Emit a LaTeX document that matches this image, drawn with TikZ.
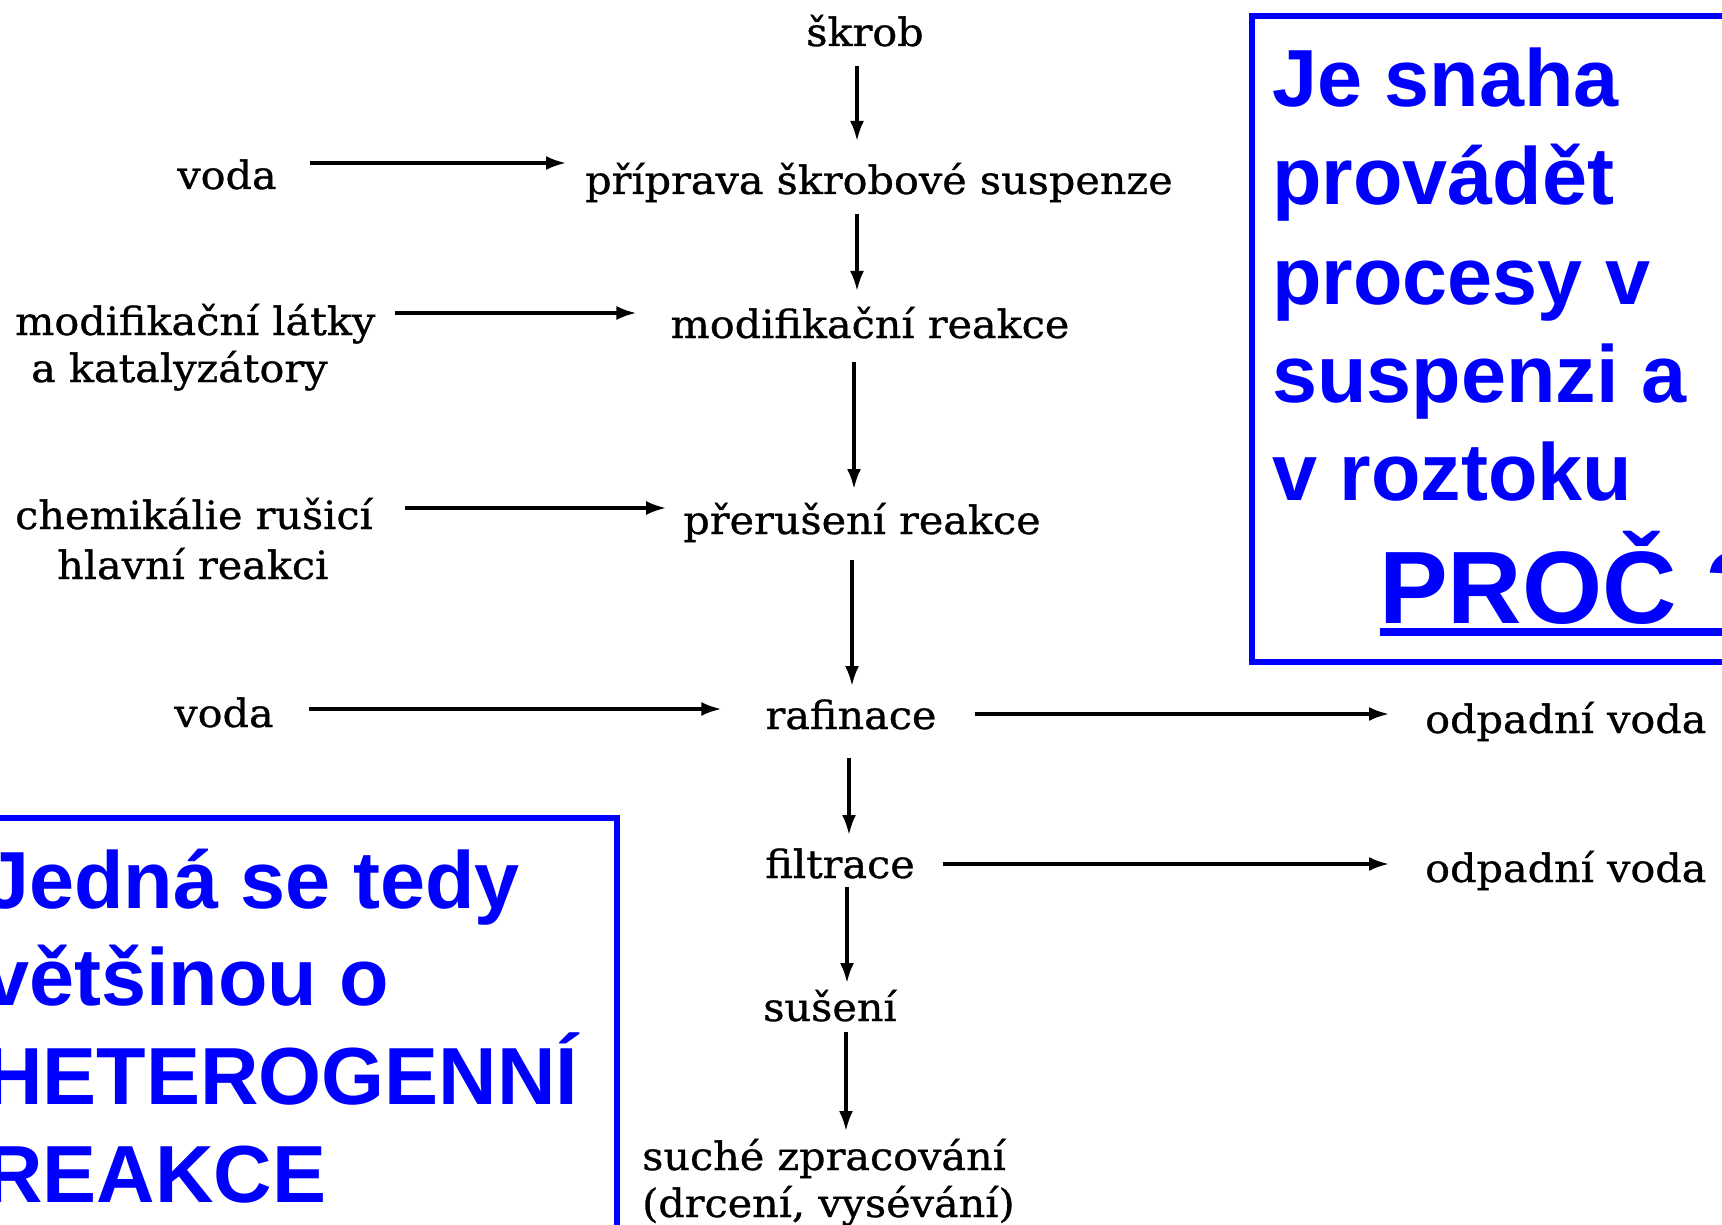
\documentclass[tikz,border=0pt]{standalone}
\usepackage{fontspec}
\setmainfont{DejaVu Serif}[FakeStretch=1.06,FakeBold=0.8]
\newfontfamily\bluefont{Liberation Sans}
\usetikzlibrary{arrows.meta}
\definecolor{pureblue}{RGB}{0,0,255}
\begin{document}
\begin{tikzpicture}[x=1pt,y=-1pt,
  flow/.style={font=\fontsize{39}{47}\selectfont, inner sep=0pt, anchor=base},
  flowl/.style={flow, anchor=base west},
  arr/.style={line width=3.2pt, -{Latex[length=20pt,width=14pt]}},
  bluetxt/.style={font=\bluefont\bfseries\fontsize{81}{98}\selectfont, text=pureblue, inner sep=0pt, anchor=base west},
  bluebox/.style={draw=pureblue, line width=6.5pt}]
\useasboundingbox (0,0) rectangle (1722,1225);
\fill[white] (0,0) rectangle (1722,1225);
\clip (0,0) rectangle (1722,1225);

% flow nodes
\node[flow] (skrob) at (865,46) {škrob};
\node[flow] (voda1) at (227,189) {voda};
\node[flow] (pripr) at (879,194) {příprava škrobové suspenze};
\node[flowl] (modifA) at (15,335) {modifikační látky};
\node[flowl] (modifB) at (31,382) {a katalyzátory};
\node[flow] (modreak) at (870,338) {modifikační reakce};
\node[flowl] (chemA) at (15,529) {chemikálie rušicí};
\node[flowl] (chemB) at (57,579) {hlavní reakci};
\node[flow] (prer) at (862,534) {přerušení reakce};
\node[flow] (voda2) at (224,727) {voda};
\node[flow] (raf) at (851,729) {rafinace};
\node[flowl] (odp1) at (1425,733) {odpadní voda};
\node[flow] (filt) at (840,878) {filtrace};
\node[flowl] (odp2) at (1425,882) {odpadní voda};
\node[flow] (sus) at (830,1021) {sušení};
\node[flowl] (sucheA) at (642,1170) {suché zpracování};
\node[flowl] (sucheB) at (642,1217) {(drcení, vysévání)};

% vertical arrows
\draw[arr] ([xshift=-8pt,yshift=-20pt]skrob.base) -- ([xshift=-8pt,yshift=53pt]skrob.base |- pripr.base);
\draw[arr] ([xshift=-22pt,yshift=-20pt]pripr.base) -- ([xshift=-22pt,yshift=47pt]pripr.base |- modreak.base);
\draw[arr] ([xshift=-16pt,yshift=-24pt]modreak.base) -- ([xshift=-16pt,yshift=45pt]modreak.base |- prer.base);
\draw[arr] ([xshift=-10pt,yshift=-26pt]prer.base) -- ([xshift=-10pt,yshift=43pt]prer.base |- raf.base);
\draw[arr] ([xshift=-2pt,yshift=-29pt]raf.base) -- ([xshift=-2pt,yshift=43pt]raf.base |- filt.base);
\draw[arr] ([xshift=7pt,yshift=-9pt]filt.base) -- ([xshift=7pt,yshift=38pt]filt.base |- sus.base);
\draw[arr] ([xshift=16pt,yshift=-11pt]sus.base) -- ([xshift=16pt,yshift=39pt]sus.base |- sucheA.base);

% horizontal arrows
\draw[arr] ([xshift=33pt,yshift=26pt]voda1.base east) -- ([xshift=-19pt,yshift=26pt]voda1.base east -| pripr.west);
\draw[arr] ([xshift=20pt,yshift=22pt]modifA.base east) -- ([xshift=-34pt,yshift=22pt]modifA.base east -| modreak.west);
\draw[arr] ([xshift=32pt,yshift=21pt]chemA.base east) -- ([xshift=-17pt,yshift=21pt]chemA.base east -| prer.west);
\draw[arr] ([xshift=35pt,yshift=18pt]voda2.base east) -- ([xshift=-44pt,yshift=18pt]voda2.base east -| raf.west);
\draw[arr] ([xshift=38pt,yshift=15pt]raf.base east) -- ([xshift=-36pt,yshift=15pt]raf.base east -| odp1.west);
\draw[arr] ([xshift=28pt,yshift=14pt]filt.base east) -- ([xshift=-36pt,yshift=14pt]filt.base east -| odp2.west);

% right blue box
\draw[bluebox] (1252,16) rectangle (1770,662);
\node[bluetxt] (r1) at (1272,107) {Je snaha};
\node[bluetxt] (r2) at (1272,205) {provádět};
\node[bluetxt] (r3) at (1272,304) {procesy v};
\node[bluetxt] (r4) at (1272,402) {suspenzi a};
\node[bluetxt] (r5) at (1272,500) {v roztoku};
\node[bluetxt, font=\bluefont\bfseries\fontsize{103}{120}\selectfont] (proc) at (1379,623) {PROČ ?};
\draw[pureblue, line width=8pt] (1380,632) -- (1740,632);

% left blue box
\draw[bluebox] (-20,818) rectangle (617,1260);
\node[bluetxt] (l1) at (-16,908) {Jedná se tedy};
\node[bluetxt] (l2) at (-16,1005) {většinou o};
\node[bluetxt] (l3) at (-16,1104) {HETEROGENNÍ};
\node[bluetxt] (l4) at (-16,1202) {REAKCE};
\end{tikzpicture}
\end{document}
